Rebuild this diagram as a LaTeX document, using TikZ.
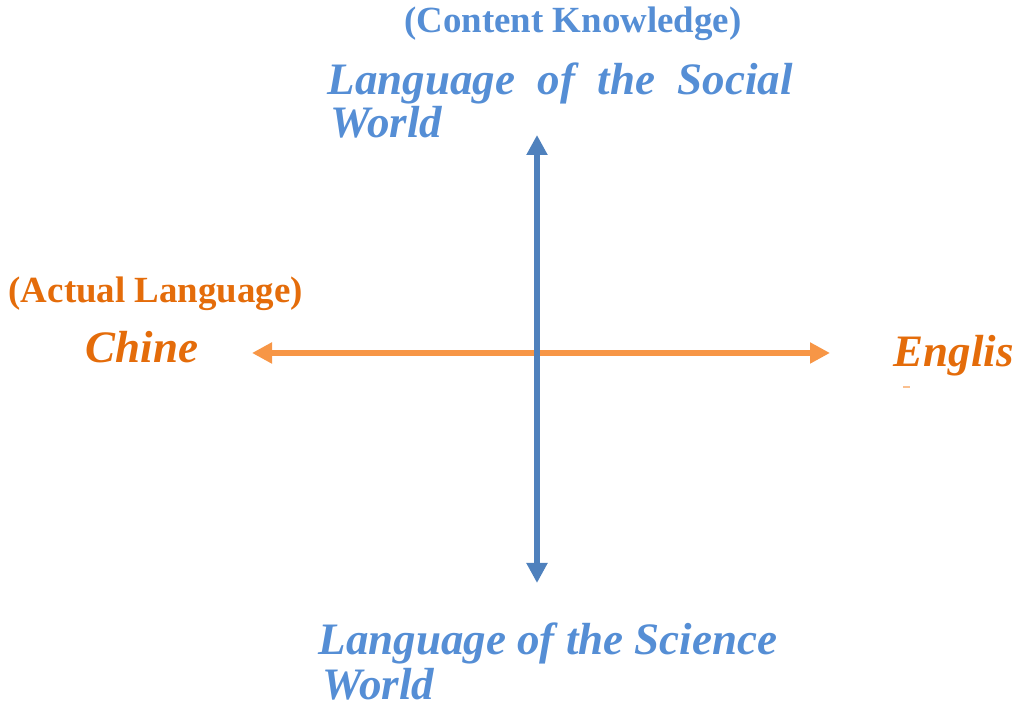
\documentclass[tikz,border=0pt]{standalone}
\usepackage{fontspec}
\setmainfont{Liberation Serif}
\usetikzlibrary{arrows.meta}

\definecolor{axisblue}{RGB}{79,129,189}
\definecolor{textblue}{RGB}{85,142,213}
\definecolor{axisorange}{RGB}{247,150,70}
\definecolor{textorange}{RGB}{228,108,10}

\tikzset{
  bigitalic/.style={inner sep=0pt,anchor=base west,font=\fontsize{12.8}{14}\selectfont\bfseries\itshape},
  bigbold/.style={inner sep=0pt,font=\fontsize{10.5}{12}\selectfont\bfseries}
}

\begin{document}
\begin{tikzpicture}
\useasboundingbox (0,0) rectangle (10.27,7.11);
%\draw[step=0.5cm,gray,very thin] (0,0) grid (10.27,7.11); %background grid

% axis ends
\coordinate (social) at (5.37,5.76);
\coordinate (science) at (5.37,1.28);
\coordinate (chinese) at (2.52,3.58);
\coordinate (english) at (8.30,3.58);

\draw[axisorange,line width=1.5pt,{Triangle[width=0.2cm,length=0.2cm]}-{Triangle[width=0.2cm,length=0.2cm]}] (chinese) -- (english) ;
\draw[axisblue,line width=1.5pt,{Triangle[width=0.2cm,length=0.2cm]}-{Triangle[width=0.2cm,length=0.2cm]}] (science) -- (social) ;

% content knowledge
\node[bigbold,anchor=base,textblue] (content) at (5.73,6.78) {(Content Knowledge)};
\node[bigitalic,textblue] (socialA) at (3.27,6.16) {Language \ of \ the \ Social};
\node[bigitalic,textblue] (socialB) at (3.30,5.73) {World};
\node[bigitalic,textblue] (scienceA) at (3.18,0.56) {Language of the Science};
\node[bigitalic,textblue] (scienceB) at (3.22,0.11) {World};

% actual language
\node[bigbold,anchor=base west,textorange] (actual) at (0.08,4.08) {(Actual Language)};
\node[bigitalic,textorange] (chine) at (0.85,3.48) {Chine};
\node[bigitalic,textorange] (englis) at (8.93,3.44) {Englis};
\draw[axisorange!60,line width=0.5pt] (9.03,3.24) -- (9.10,3.24) ;

\end{tikzpicture}
\end{document}
